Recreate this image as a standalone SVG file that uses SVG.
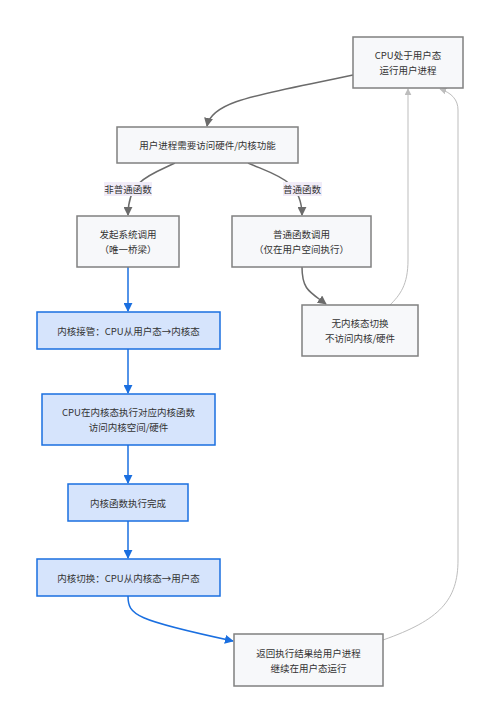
<svg xmlns="http://www.w3.org/2000/svg" width="500" height="723" viewBox="0 0 500 723">
<defs>
<style>
text{font-family:"Noto Sans CJK SC","Noto Sans",sans-serif;font-size:9.5px;fill:#333;text-anchor:middle;dominant-baseline:central}
.n rect{fill:#f7f8fa;stroke:#808080;stroke-width:1.5}
.k rect{fill:#d6e4fc;stroke:#1a6fe0;stroke-width:1.5}
.e{fill:none;stroke:#6b6b6b;stroke-width:1.5}
.b{fill:none;stroke:#1a6fe0;stroke-width:1.5}
.g{fill:none;stroke:#bdbdbd;stroke-width:1}
.lb{fill:#f1ecf8}
</style>
<marker id="ad" viewBox="0 0 10 10" refX="9" refY="5" markerWidth="6" markerHeight="6" orient="auto"><path d="M0,0L10,5L0,10z" fill="#6b6b6b"/></marker>
<marker id="ab" viewBox="0 0 10 10" refX="9" refY="5" markerWidth="6" markerHeight="6" orient="auto"><path d="M0,0L10,5L0,10z" fill="#1a6fe0"/></marker>
<marker id="ag" viewBox="0 0 10 10" refX="9" refY="5" markerWidth="7" markerHeight="7" orient="auto"><path d="M0,0L10,5L0,10z" fill="#bdbdbd"/></marker>
</defs>
<rect width="500" height="723" fill="#fff"/>
<g id="edges">
<path class="e" d="M353,75 C260,95 212,100 207,126" marker-end="url(#ad)"/>
<path class="e" d="M175,163 C150,175 128,180 128,215" marker-end="url(#ad)"/>
<path class="e" d="M248,163 C275,175 302,180 302,215" marker-end="url(#ad)"/>
<path class="e" d="M302,267 C302,290 310,292 326,304" marker-end="url(#ad)"/>
<path class="g" d="M390,305 C400,295 408,285 408,260 L408,89" marker-end="url(#ag)"/>
<path class="g" d="M383,640 C440,620 458,600 458,560 L458,110 C458,100 452,93 440,89" marker-end="url(#ag)"/>
<path class="b" d="M128,267 L128,311" marker-end="url(#ab)"/>
<path class="b" d="M128,349 L128,393" marker-end="url(#ab)"/>
<path class="b" d="M128,445 L128,483" marker-end="url(#ab)"/>
<path class="b" d="M128,521 L128,558" marker-end="url(#ab)"/>
<path class="b" d="M128,596 C128,615 135,620 233,641" marker-end="url(#ab)"/>
<rect class="lb" x="104" y="182" width="48" height="14"/>
<text x="128" y="189">非普通函数</text>
<rect class="lb" x="283" y="182" width="39" height="14"/>
<text x="302" y="189">普通函数</text>
</g>
<g id="n1" class="n"><rect x="353" y="37" width="110" height="51"/><text x="408" y="55">CPU处于用户态</text><text x="408" y="70">运行用户进程</text></g>
<g id="n2" class="n"><rect x="117" y="127" width="181" height="36"/><text x="207.5" y="145">用户进程需要访问硬件/内核功能</text></g>
<g id="n3" class="n"><rect x="77" y="216" width="102" height="51"/><text x="128" y="234">发起系统调用</text><text x="128" y="249">（唯一桥梁）</text></g>
<g id="n4" class="n"><rect x="232" y="216" width="139" height="51"/><text x="301.5" y="234">普通函数调用</text><text x="301.5" y="249">（仅在用户空间执行）</text></g>
<g id="n5" class="n"><rect x="302" y="305" width="116" height="51"/><text x="360" y="323">无内核态切换</text><text x="360" y="338">不访问内核/硬件</text></g>
<g id="n6" class="k"><rect x="37" y="312" width="183" height="37"/><text x="128.5" y="330.5">内核接管：CPU从用户态→内核态</text></g>
<g id="n7" class="k"><rect x="42" y="394" width="173" height="51"/><text x="128.5" y="412">CPU在内核态执行对应内核函数</text><text x="128.5" y="427">访问内核空间/硬件</text></g>
<g id="n8" class="k"><rect x="68" y="484" width="120" height="37"/><text x="128" y="502.5">内核函数执行完成</text></g>
<g id="n9" class="k"><rect x="37" y="559" width="183" height="37"/><text x="128.5" y="577.5">内核切换：CPU从内核态→用户态</text></g>
<g id="n10" class="n"><rect x="234" y="634" width="149" height="52"/><text x="308.5" y="653">返回执行结果给用户进程</text><text x="308.5" y="668">继续在用户态运行</text></g>
</svg>
